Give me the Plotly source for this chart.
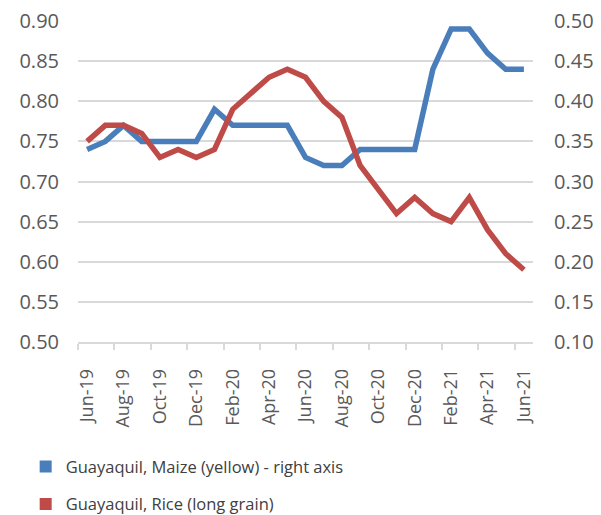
import plotly.graph_objects as go

months = ["Jun-19", "Jul-19", "Aug-19", "Sep-19", "Oct-19", "Nov-19", "Dec-19",
          "Jan-20", "Feb-20", "Mar-20", "Apr-20", "May-20", "Jun-20", "Jul-20",
          "Aug-20", "Sep-20", "Oct-20", "Nov-20", "Dec-20", "Jan-21", "Feb-21",
          "Mar-21", "Apr-21", "May-21", "Jun-21"]
rice = [0.75, 0.77, 0.77, 0.76, 0.73, 0.74, 0.73, 0.74, 0.79, 0.81, 0.83, 0.84,
        0.83, 0.80, 0.78, 0.72, 0.69, 0.66, 0.68, 0.66, 0.65, 0.68, 0.64, 0.61, 0.59]
maize = [0.34, 0.35, 0.37, 0.35, 0.35, 0.35, 0.35, 0.39, 0.37, 0.37, 0.37, 0.37,
         0.33, 0.32, 0.32, 0.34, 0.34, 0.34, 0.34, 0.44, 0.49, 0.49, 0.46, 0.44, 0.44]
left_ticks = [0.50, 0.55, 0.60, 0.65, 0.70, 0.75, 0.80, 0.85, 0.90]
right_ticks = [0.10, 0.15, 0.20, 0.25, 0.30, 0.35, 0.40, 0.45, 0.50]
maize_name = "Guayaquil, Maize (yellow) - right axis"
rice_name = "Guayaquil, Rice (long grain)"

BLUE = "#4A7EBB"
RED = "#BE4B48"
GRAY = "#595959"
GRID = "#D9D9D9"
FONT = "Open Sans"

x = list(range(len(months)))

fig = go.Figure()
# Maize on the main (right-side) axis
fig.add_trace(go.Scatter(x=x, y=maize, mode="lines", yaxis="y", showlegend=False,
                         line=dict(color=BLUE, width=5.5), name=maize_name))
# Rice on the overlaying (left-side) axis, drawn on top
fig.add_trace(go.Scatter(x=x, y=rice, mode="lines", yaxis="y2", showlegend=False,
                         line=dict(color=RED, width=5.5), name=rice_name))
# legend entries with square symbols
fig.add_trace(go.Scatter(x=[None], y=[None], mode="markers", name=maize_name,
                         legendgroup="a", marker=dict(symbol="square", size=11, color=BLUE)))
fig.add_trace(go.Scatter(x=[None], y=[None], mode="markers", name=rice_name,
                         legendgroup="b", marker=dict(symbol="square", size=11, color=RED)))

fig.update_layout(
    width=593, height=507,
    margin=dict(l=70, r=68, t=13, b=173, autoexpand=False),
    paper_bgcolor="white", plot_bgcolor="white",
    font=dict(family=FONT, color=GRAY),
    xaxis=dict(
        range=[-0.5, len(months) - 0.5],
        tickmode="array", tickvals=x[::2], ticktext=months[::2],
        tickangle=-90, ticks="", showgrid=False, zeroline=False,
        showline=True, linecolor=GRID, linewidth=1.5,
        tickfont=dict(size=18, color=GRAY, family=FONT),
        ticklabelstandoff=18, automargin=False, ticklabeloverflow="allow",
        minor=dict(tick0=-0.5, dtick=2, ticks="outside", ticklen=6,
                   tickcolor=GRID, tickwidth=1.5, showgrid=False),
    ),
    yaxis=dict(
        side="right", range=[0.0999, 0.5001],
        tickmode="array", tickvals=right_ticks, tickformat=".2f",
        showgrid=True, gridcolor=GRID, gridwidth=1.5, zeroline=False,
        tickfont=dict(size=20, color=GRAY, family=FONT),
        ticklabelstandoff=20, automargin=False, ticklabeloverflow="allow",
    ),
    yaxis2=dict(
        side="left", overlaying="y", range=[0.4999, 0.9001],
        tickmode="array", tickvals=left_ticks, tickformat=".2f",
        showgrid=False, zeroline=False,
        tickfont=dict(size=20, color=GRAY, family=FONT),
        ticklabelstandoff=18, automargin=False, ticklabeloverflow="allow",
    ),
    legend=dict(
        orientation="v", x=-0.115, xanchor="left", y=-0.334, yanchor="top",
        font=dict(size=16.5, color="#404040", family=FONT),
        tracegroupgap=13, itemsizing="constant", bgcolor="rgba(0,0,0,0)",
    ),
)

fig.write_html("out.html")
